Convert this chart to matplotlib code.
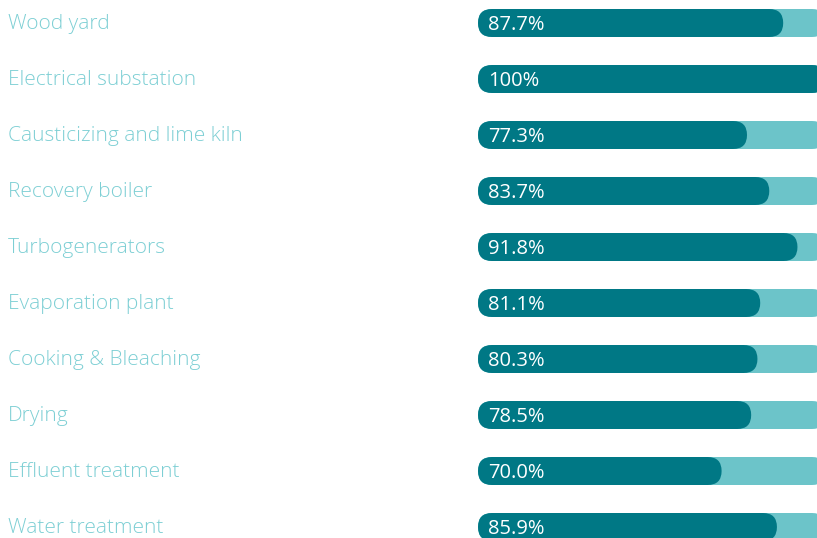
import matplotlib
matplotlib.use('Agg')
import matplotlib.pyplot as plt
from matplotlib.patches import FancyBboxPatch
from matplotlib.transforms import blended_transform_factory

categories = ['Wood yard', 'Electrical substation', 'Causticizing and lime kiln',
              'Recovery boiler', 'Turbogenerators', 'Evaporation plant',
              'Cooking & Bleaching', 'Drying', 'Effluent treatment', 'Water treatment']
values = [87.7, 100, 77.3, 83.7, 91.8, 81.1, 80.3, 78.5, 70.0, 85.9]
value_labels = ['87.7%', '100%', '77.3%', '83.7%', '91.8%', '81.1%',
                '80.3%', '78.5%', '70.0%', '85.9%']

dark = '#007885'
light = '#6cc4c9'
label_col = '#7dcfd4'

W, H = 817, 538
fig = plt.figure(figsize=(W / 100, H / 100), dpi=100)
fig.patch.set_facecolor('white')

# bar area: starts at x=478px, 100% = 348px wide, rows 56px apart
ax = fig.add_axes([478 / W, (H - 555) / H, 348 / W, 560 / H])
ax.set_xlim(0, 100)
ax.set_ylim(9.5, -0.5)
ax.axis('off')

bar_h = 0.5
px_x = 348 / 100.0
px_y = 56.0
aspect = px_x / px_y
rad = 14 / px_x

for i, v in enumerate(values):
    bg = FancyBboxPatch((0, i - bar_h / 2), 100, bar_h,
                        boxstyle='round,pad=0,rounding_size=%f' % rad,
                        mutation_aspect=aspect, fc=light, ec='none',
                        clip_on=False)
    ax.add_patch(bg)
    fg = FancyBboxPatch((0, i - bar_h / 2), v, bar_h,
                        boxstyle='round,pad=0,rounding_size=%f' % rad,
                        mutation_aspect=aspect, fc=dark, ec='none',
                        clip_on=False)
    ax.add_patch(fg)
    ax.text(10 / px_x, i + 0.03, value_labels[i], color='white',
            fontsize=14.5, family='Open Sans', va='center', ha='left')

tr = blended_transform_factory(fig.transFigure, ax.transData)
for i, c in enumerate(categories):
    ax.text(8 / W, i + 0.01, c, transform=tr, color=label_col,
            fontsize=15, family='Open Sans', fontweight='light',
            va='center', ha='left', clip_on=False)

fig.savefig('out.png', dpi=100)
